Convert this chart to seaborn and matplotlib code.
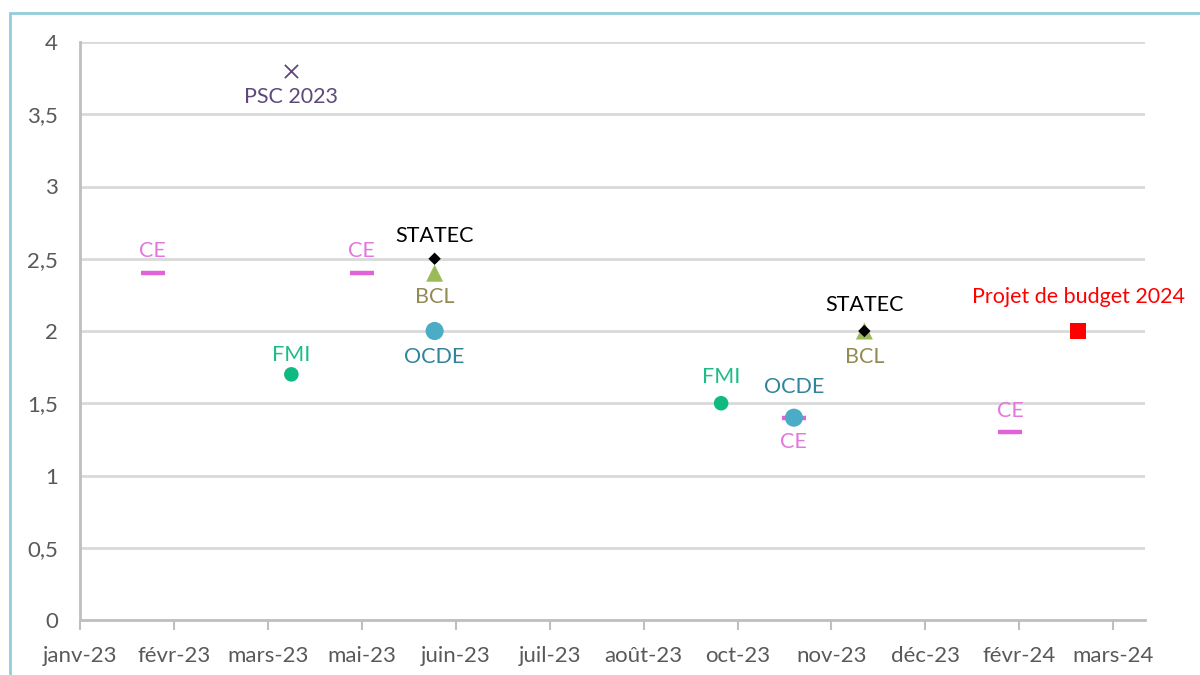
import pandas as pd
import numpy as np
import matplotlib
matplotlib.use('Agg')
import matplotlib.pyplot as plt
from matplotlib.ticker import FuncFormatter
from matplotlib.patches import Rectangle
import seaborn as sns

# Prévisions de croissance (source, date de publication, valeur)
sources = ['CE', 'PSC 2023', 'FMI', 'CE', 'STATEC', 'BCL', 'OCDE',
           'FMI', 'OCDE', 'CE', 'STATEC', 'BCL', 'CE', 'Projet de budget 2024']
dates = ['2023-02-01', '2023-04-01', '2023-04-01', '2023-05-01', '2023-06-01', '2023-06-01', '2023-06-01',
         '2023-10-01', '2023-11-01', '2023-11-01', '2023-12-01', '2023-12-01', '2024-02-01', '2024-03-01']
values = [2.4, 3.8, 1.7, 2.4, 2.5, 2.4, 2.0,
          1.5, 1.4, 1.4, 2.0, 2.0, 1.3, 2.0]

# décalage vertical des étiquettes (pixels, positif = au-dessus)
label_dy = [22, -26, 19, 22, 23, -24, -26,
            26, 31, -24, 26, -26, 21, 34]

x_tick_labels = ['janv-23', 'févr-23', 'mars-23', 'mai-23', 'juin-23', 'juil-23',
                 'août-23', 'oct-23', 'nov-23', 'déc-23', 'févr-24', 'mars-24']
y_ticks = [0, 0.5, 1, 1.5, 2, 2.5, 3, 3.5, 4]

df = pd.DataFrame({'source': sources, 'date': pd.to_datetime(dates),
                   'value': values, 'dy': label_dy})

# style par source: marqueur, taille, couleur du marqueur, couleur du label
styles = {
    'CE': dict(marker='_', s=300, color='#E064D8', text='#E377DD', lw=3.2),
    'PSC 2023': dict(marker='x', s=90, color='#5F497A', text='#5F497A', lw=1.3),
    'FMI': dict(marker='o', s=110, color='#10B981', text='#1DBD86', lw=0),
    'STATEC': dict(marker='D', s=40, color='#000000', text='#000000', lw=0),
    'BCL': dict(marker='^', s=150, color='#9BBB59', text='#948A54', lw=0),
    'OCDE': dict(marker='o', s=170, color='#4BACC6', text='#31849B', lw=0),
    'Projet de budget 2024': dict(marker='s', s=140, color='#FF0000', text='#FF0000', lw=0),
}

sns.set_style('white')
plt.rcParams['font.family'] = ['Lato', 'DejaVu Sans']

fig = plt.figure(figsize=(12, 6.75), dpi=100)
ax = fig.add_axes([80 / 1200, 55 / 675, 1065 / 1200, 578 / 675])

# cadre bleu clair autour du graphique
fig.patches.append(Rectangle((10 / 1200, -0.05), 1.1, (675 - 13) / 675 + 0.05,
                             transform=fig.transFigure, fill=False,
                             edgecolor='#92CDDC', linewidth=2, zorder=0))

draw_order = ['CE', 'OCDE', 'FMI', 'BCL', 'STATEC', 'PSC 2023', 'Projet de budget 2024']
for src in draw_order:
    st = styles[src]
    sub = df[df['source'] == src]
    if st['marker'] in ('_', 'x'):
        sns.scatterplot(data=sub, x='date', y='value', ax=ax, marker=st['marker'],
                        s=st['s'], color=st['color'], linewidth=st['lw'], zorder=3)
    else:
        sns.scatterplot(data=sub, x='date', y='value', ax=ax, marker=st['marker'],
                        s=st['s'], color=st['color'], edgecolor='none', zorder=3)

for _, row in df.iterrows():
    st = styles[row['source']]
    ax.annotate(row['source'], (row['date'], row['value']), xytext=(0, row['dy']),
                textcoords='offset pixels', ha='center', va='center',
                color=st['text'], fontsize=15.5, zorder=4, annotation_clip=False)

start = pd.Timestamp('2023-01-01')
ticks = [start + pd.Timedelta(days=40 * k) for k in range(len(x_tick_labels))]
ax.set_xticks(ticks)
ax.set_xticklabels(x_tick_labels)
ax.set_xlim(start, start + pd.Timedelta(days=453.5))
ax.set_ylim(0, 4)
ax.set_yticks(y_ticks)
ax.yaxis.set_major_formatter(FuncFormatter(lambda v, p: f'{v:g}'.replace('.', ',')))

ax.grid(axis='y', color='#D9D9D9', linewidth=2)
ax.grid(axis='x', visible=False)
ax.set_axisbelow(True)
for side in ['top', 'right']:
    ax.spines[side].set_visible(False)
for side in ['left', 'bottom']:
    ax.spines[side].set_color('#BFBFBF')
    ax.spines[side].set_linewidth(2)
    ax.spines[side].set_zorder(2)

ax.tick_params(axis='x', direction='out', length=7, width=1.5, color='#BFBFBF',
               labelsize=16, labelcolor='#595959', pad=12, bottom=True)
ax.tick_params(axis='y', length=0, labelsize=16, labelcolor='#595959', pad=16)
ax.set_xlabel('')
ax.set_ylabel('')

fig.savefig('out.png', dpi=100)
